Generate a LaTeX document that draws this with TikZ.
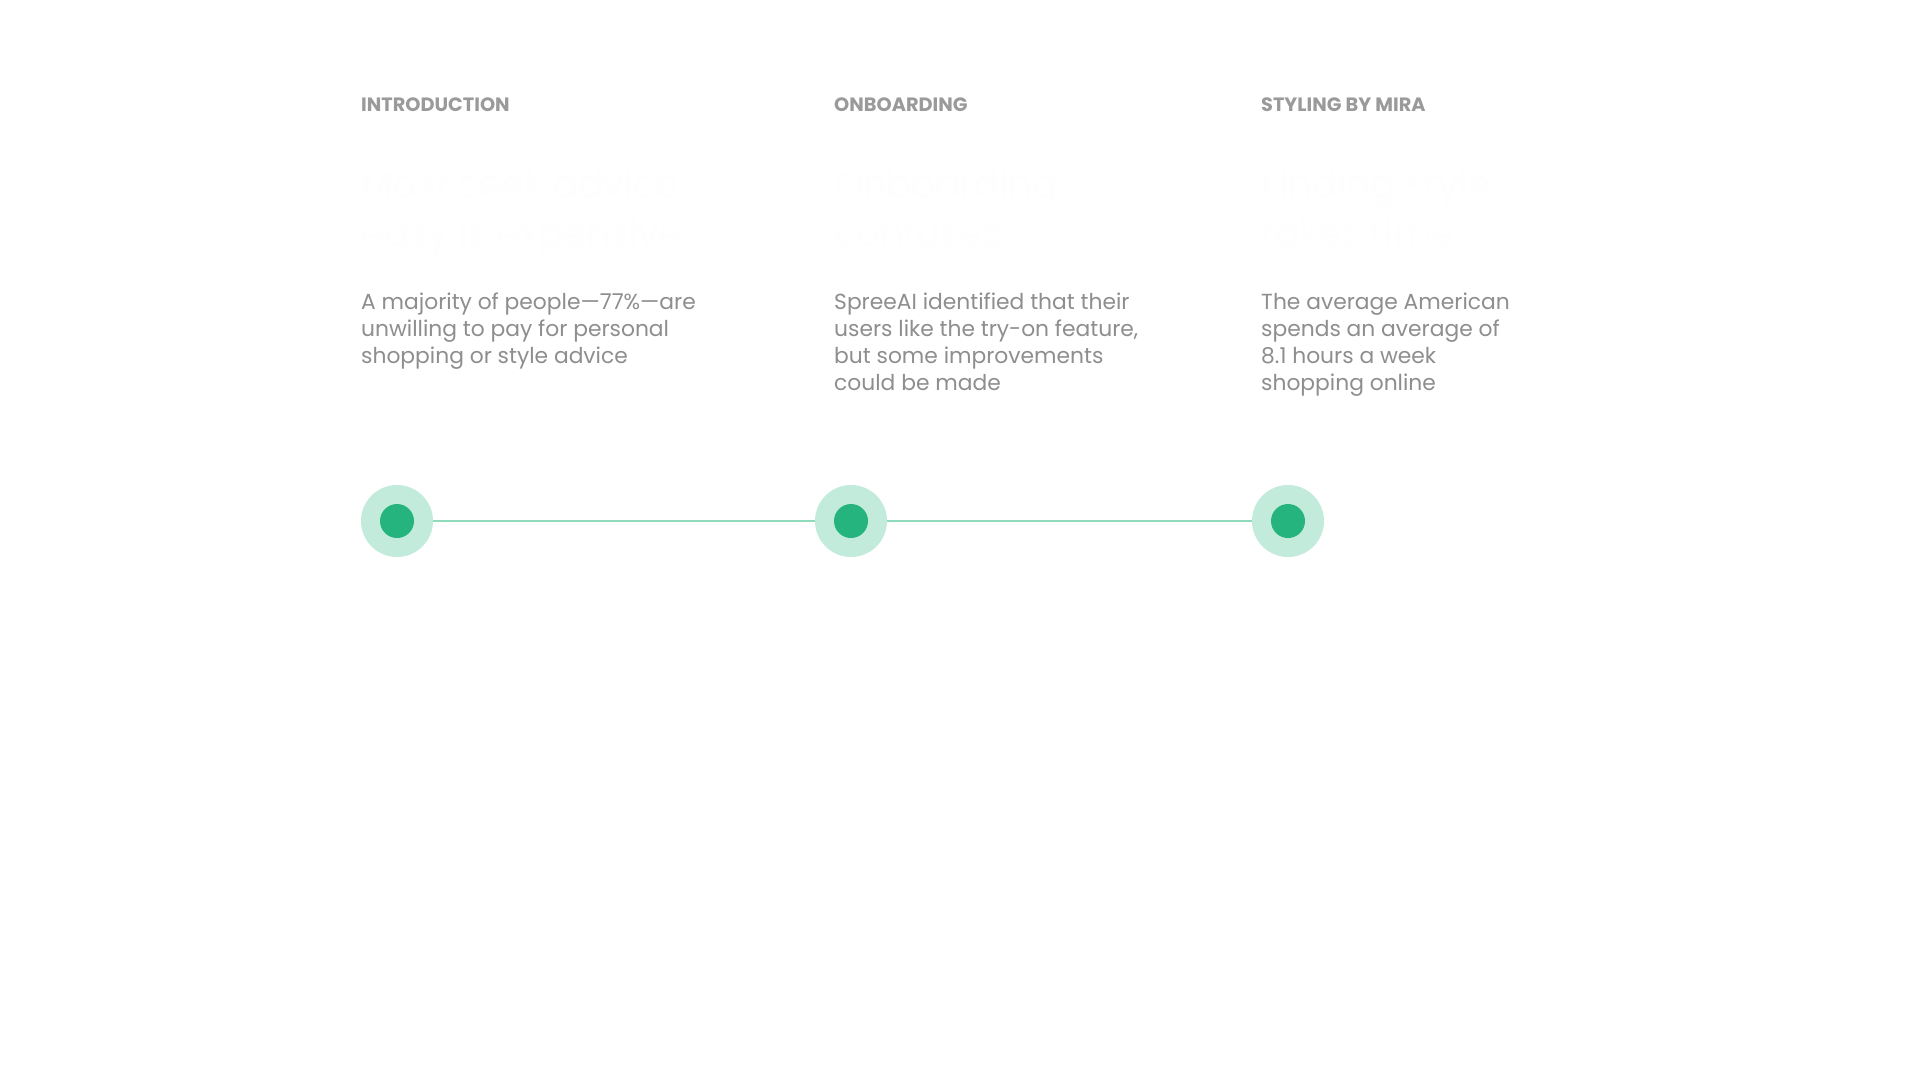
\documentclass[tikz,border=0pt]{standalone}
\usepackage{fontspec}
\setmainfont{Poppins}
\definecolor{headgray}{HTML}{9A9A9A}
\definecolor{bodygray}{HTML}{8E8E8E}
\definecolor{ghost}{HTML}{FEFEFE}
\definecolor{mint}{HTML}{C2EBDB}
\definecolor{leaf}{HTML}{25B47E}
\definecolor{trackgreen}{HTML}{8FD9BD}

\begin{document}
\begin{tikzpicture}[x=1pt, y=-1pt,
  heading/.style={anchor=base west, inner sep=0pt, text=headgray,
    font=\fontsize{19.3}{24}\selectfont\bfseries},
  ghosttext/.style={anchor=north west, inner sep=0pt, align=left, text=ghost,
    font=\fontsize{37}{49}\selectfont},
  body/.style={anchor=north west, inner sep=0pt, align=left, text=bodygray,
    font=\fontsize{21.8}{27}\selectfont},
  halo/.style={circle, fill=mint, minimum size=72pt, inner sep=0pt},
  core/.style={circle, fill=leaf, minimum size=34pt, inner sep=0pt}]

\useasboundingbox[fill=white] (0,0) rectangle (1920,1080);

% column headings
\node[heading] (introhead) at (361,111) {INTRODUCTION};
\node[heading] (onbhead)   at (834,111) {ONBOARDING};
\node[heading] (mirahead)  at (1261,111) {STYLING BY MIRA};

% faint titles
\node[ghosttext] (introtitle) at (361,169) {Most seek advice\\easy is expensive};
\node[ghosttext] (onbtitle)   at (834,169) {Onboarding\\confuses};
\node[ghosttext] (miratitle)  at (1261,169) {Finding style\\takes time};

% body text
\node[body] (introtext) at (361,293) {A majority of people—77\%—are\\unwilling to pay for personal\\shopping or style advice};
\node[body] (onbtext)   at (834,293) {SpreeAI identified that their\\users like the try-on feature,\\but some improvements\\could be made};
\node[body] (miratext)  at (1261,293) {The average American\\spends an average of\\8.1 hours a week\\shopping online};

% timeline
\coordinate (introdot) at (397,521);
\coordinate (onbdot)   at (851,521);
\coordinate (miradot)  at (1288,521);
\draw[trackgreen, line width=1.2pt] (introdot) -- (onbdot) -- (miradot);
\foreach \d in {introdot, onbdot, miradot} {
  \node[halo] (\d halo) at (\d) {};
  \node[core] (\d core) at (\d) {};
}

\end{tikzpicture}
\end{document}
